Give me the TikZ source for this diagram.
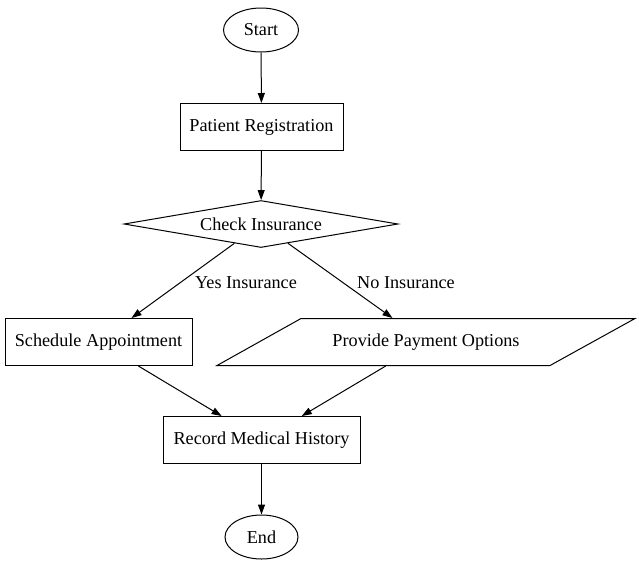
\documentclass[tikz,border=0pt]{standalone}
\usepackage{fontspec}
\setmainfont{Liberation Serif}
\usetikzlibrary{shapes.geometric,arrows.meta}
\begin{document}
\begin{tikzpicture}[x=1pt,y=-1pt,
  every node/.style={font=\fontsize{18.2pt}{20pt}\selectfont, line width=1pt},
  term/.style={ellipse, draw, minimum width=75pt, minimum height=44pt, inner sep=0pt},
  proc/.style={rectangle, draw, minimum height=47pt, inner sep=0pt},
  dec/.style={diamond, draw, aspect=5.83, minimum width=274pt, minimum height=47pt, inner sep=0pt},
  iobox/.style={rectangle, draw=none, minimum height=47pt, inner sep=0pt},
  edgelbl/.style={inner sep=1pt},
  flow/.style={line width=1pt, -{Triangle[length=10pt,width=7pt]}}]
\useasboundingbox (0,0) rectangle (639,566);
\node[term] (start) at (261,30) {Start};
\node[proc, minimum width=163pt] (reg) at (261.5,127) {Patient Registration};
\node[dec] (ci) at (261,224) {Check Insurance};
\node[proc, minimum width=187pt] (sa) at (98.5,342) {Schedule Appointment};
\node[iobox, minimum width=418pt] (ppo) at (426,342) {Provide Payment Options};
\draw[line width=1pt] (217,365.5) -- (550,365.5) -- (635,318.5) -- (301,318.5) -- cycle;
\node[proc, minimum width=197pt] (rmh) at (261.5,440) {Record Medical History};
\node[term, minimum width=73pt] (end) at (261.5,537) {End};
\draw[flow] (start) -- (reg);
\draw[flow] (reg) -- (ci);
\draw[flow] (ci) -- (sa);
\draw[flow] (ci) -- (ppo);
\draw[flow] (sa) -- (rmh);
\draw[flow] (ppo) -- (rmh);
\draw[flow] (rmh) -- (end);
\node[edgelbl] (yes) at (246,283) {Yes Insurance};
\node[edgelbl] (no) at (406,283) {No Insurance};
\end{tikzpicture}
\end{document}
